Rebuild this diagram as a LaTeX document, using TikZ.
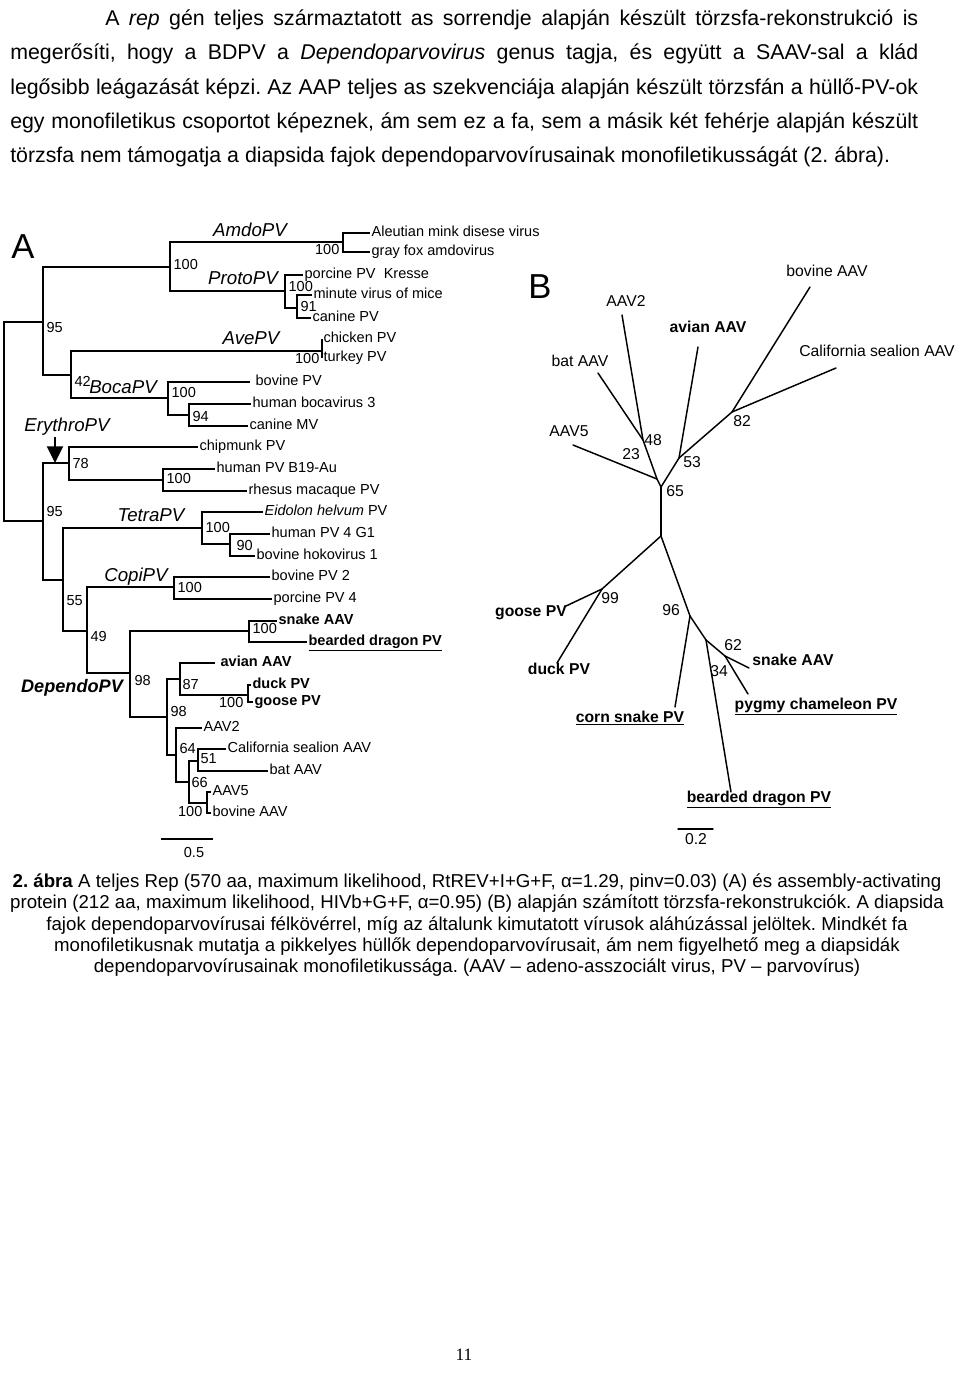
\documentclass[tikz,border=0pt]{standalone}
\usepackage{fontspec}
\setmainfont{Liberation Sans}
\newfontfamily\pagenumfont{Liberation Serif}
\usetikzlibrary{arrows.meta}
\usetikzlibrary{positioning}
\frenchspacing

\begin{document}
\begin{tikzpicture}[
    x=0.75pt, y=-0.75pt,
    font=\fontsize{10.9}{13}\selectfont
]
\tikzset{
    leafnode/.style = {anchor=west, inner sep=1pt, text height=8pt, text depth=2.3pt},
    bootnode/.style = {inner sep=1pt, text height=7.8pt, text depth=0pt},
    cladenode/.style = {inner sep=0pt, font=\fontsize{14}{16}\selectfont\itshape},
    bignode/.style = {inner sep=0pt, font=\fontsize{26}{30}\selectfont},
    unrnode/.style = {inner sep=0pt, text height=8.5pt, text depth=2.4pt, font=\fontsize{11.8}{14}\selectfont},
    bodyline/.style = {anchor=base west, inner sep=0pt, font=\fontsize{16}{19}\selectfont},
    capline/.style = {anchor=base, inner sep=0pt, font=\fontsize{14}{16}\selectfont},
    branch/.style = {line width=1.2pt},
    ubranch/.style = {line width=1.1pt, line cap=round}
}
\fill[white] (0,0) rectangle (960,1374);
\useasboundingbox (0,0) rectangle (960,1374);

% text above
\node[bodyline] (par1) at (105,25.5) {\makebox[609.75pt][s]{A \textit{rep} gén teljes származtatott as sorrendje alapján készült törzsfa-rekonstrukció is}};
\node[bodyline] (par2) at (10,59.75) {\makebox[681pt][s]{megerősíti, hogy a BDPV a \textit{Dependoparvovirus} genus tagja, és együtt a SAAV-sal a klád}};
\node[bodyline] (par3) at (10,94) {\makebox[681pt][s]{legősibb leágazását képzi. Az AAP teljes as szekvenciája alapján készült törzsfán a hüllő-PV-ok}};
\node[bodyline] (par4) at (10,128.25) {\makebox[681pt][s]{egy monofiletikus csoportot képeznek, ám sem ez a fa, sem a másik két fehérje alapján készült}};
\node[bodyline] (par5) at (10,162.5) {törzsfa nem támogatja a diapsida fajok dependoparvovírusainak monofiletikusságát (2. ábra).};

% tree A
\node[bignode] (lblA) at (23,247) {A};
\coordinate (rootA) at (4,421);
\coordinate (nA95) at (43,322);
\coordinate (nAP) at (170,267);
\coordinate (nAmdo) at (343,242);
\coordinate (nProto) at (285,291);
\coordinate (n91) at (297,308);
\coordinate (nAB) at (71,375);
\coordinate (nAve) at (322,351);
\coordinate (nBoca) at (168,398);
\coordinate (n94) at (189,415);
\coordinate (nB95) at (43,521);
\coordinate (nEry) at (69,463);
\coordinate (nB19) at (163,480);
\coordinate (n55) at (63,580);
\coordinate (nTetra) at (202,528);
\coordinate (n90) at (230,544);
\coordinate (n49) at (87,631);
\coordinate (nCopi) at (174,587);
\coordinate (n98a) at (130,673);
\coordinate (nRept) at (249,631);
\coordinate (n98b) at (167,717);
\coordinate (n87) at (180,679);
\coordinate (nDuck) at (248,695);
\coordinate (n64) at (176,755);
\coordinate (n66) at (189,782);
\coordinate (n51) at (198,761);
\coordinate (nAAV5) at (207,803);

\node[leafnode] (tAleut) at (370,233) {Aleutian mink disese virus};
\node[leafnode] (tGray) at (370,252) {gray fox amdovirus};
\node[leafnode] (tKresse) at (303,275) {porcine PV~ Kresse};
\node[leafnode] (tMVM) at (312,295) {minute virus of mice};
\node[leafnode] (tCPV) at (311,318) {canine PV};
\node[leafnode] (tChick) at (322,339) {chicken PV};
\node[leafnode] (tTurk) at (322,358) {turkey PV};
\node[leafnode] (tBovPV) at (250,382) {\ bovine PV};
\node[leafnode] (tHBoV) at (251,404) {human bocavirus 3};
\node[leafnode] (tCMV) at (248,426) {canine MV};
\node[leafnode] (tChip) at (198,447) {chipmunk PV};
\node[leafnode] (tB19) at (215,469) {human PV B19-Au};
\node[leafnode] (tRhes) at (247,491) {rhesus macaque PV};
\node[leafnode] (tEido) at (263,512) {\textit{Eidolon helvum} PV};
\node[leafnode] (tHPV4) at (270,534) {human PV 4 G1};
\node[leafnode] (tHoko) at (255,556) {bovine hokovirus 1};
\node[leafnode] (tBPV2) at (270,577) {bovine PV 2};
\node[leafnode] (tPPV4) at (272,599) {porcine PV 4};
\node[leafnode] (tSnake) at (277,621) {\textbf{snake AAV}};
\node[leafnode] (tBDPV) at (307,642) {\textbf{\underline{bearded dragon PV}}};
\node[leafnode] (tAvian) at (215,663) {\ \textbf{avian AAV}};
\node[leafnode] (tDuck) at (251,685) {\textbf{duck PV}};
\node[leafnode] (tGoose) at (253,702) {\textbf{goose PV}};
\node[leafnode] (tAAV2) at (202,728) {AAV2};
\node[leafnode] (tCSL) at (226,749) {California sealion AAV};
\node[leafnode] (tBat) at (268,771) {bat AAV};
\node[leafnode] (tAAV5) at (211,792) {AAV5};
\node[leafnode] (tBovAAV) at (211,813) {bovine AAV};

\draw[branch] (rootA) |- (nA95);
\draw[branch] (rootA) |- (nB95);
\draw[branch] (nA95) |- (nAP);
\draw[branch] (nA95) |- (nAB);
\draw[branch] (nAP) |- (nAmdo);
\draw[branch] (nAP) |- (nProto);
\draw[branch] (nAmdo) |- (tAleut);
\draw[branch] (nAmdo) |- (tGray);
\draw[branch] (nProto) |- (tKresse);
\draw[branch] (nProto) |- (n91);
\draw[branch] (n91) |- (tMVM);
\draw[branch] (n91) |- (tCPV);
\draw[branch] (nAB) |- (nAve);
\draw[branch] (nAB) |- (nBoca);
\draw[branch] (nAve) |- (tChick);
\draw[branch] (nAve) |- (tTurk);
\draw[branch] (nBoca) |- (tBovPV);
\draw[branch] (nBoca) |- (n94);
\draw[branch] (n94) |- (tHBoV);
\draw[branch] (n94) |- (tCMV);
\draw[branch] (nB95) |- (nEry);
\draw[branch] (nB95) |- (n55);
\draw[branch] (nEry) |- (tChip);
\draw[branch] (nEry) |- (nB19);
\draw[branch] (nB19) |- (tB19);
\draw[branch] (nB19) |- (tRhes);
\draw[branch] (n55) |- (nTetra);
\draw[branch] (n55) |- (n49);
\draw[branch] (nTetra) |- (tEido);
\draw[branch] (nTetra) |- (n90);
\draw[branch] (n90) |- (tHPV4);
\draw[branch] (n90) |- (tHoko);
\draw[branch] (n49) |- (nCopi);
\draw[branch] (n49) |- (n98a);
\draw[branch] (nCopi) |- (tBPV2);
\draw[branch] (nCopi) |- (tPPV4);
\draw[branch] (n98a) |- (nRept);
\draw[branch] (n98a) |- (n98b);
\draw[branch] (nRept) |- (tSnake);
\draw[branch] (nRept) |- (tBDPV);
\draw[branch] (n98b) |- (n87);
\draw[branch] (n98b) |- (n64);
\draw[branch] (n87) |- (tAvian);
\draw[branch] (n87) |- (nDuck);
\draw[branch] (nDuck) |- (tDuck);
\draw[branch] (nDuck) |- (tGoose);
\draw[branch] (n64) |- (tAAV2);
\draw[branch] (n64) |- (n66);
\draw[branch] (n66) |- (n51);
\draw[branch] (n66) |- (nAAV5);
\draw[branch] (n51) |- (tCSL);
\draw[branch] (n51) |- (tBat);
\draw[branch] (nAAV5) |- (tAAV5);
\draw[branch] (nAAV5) |- (tBovAAV);

\node[bootnode, anchor=west] (bA95) at (45,327) {95};
\node[bootnode, anchor=west] (bAP) at (172,264) {100};
\node[bootnode, anchor=east] (bAmdo) at (341,249) {100};
\node[bootnode, anchor=west] (bProto) at (287,286) {100};
\node[bootnode, anchor=west] (b91) at (299,306) {91};
\node[bootnode, anchor=west] (b42) at (73,381) {42};
\node[bootnode, anchor=east] (bAve) at (321,358) {100};
\node[bootnode, anchor=west] (bBoca) at (170,392) {100};
\node[bootnode, anchor=west] (b94) at (191,416) {94};
\node[bootnode, anchor=west] (bB95) at (45,511) {95};
\node[bootnode, anchor=west] (b78) at (71,463) {78};
\node[bootnode, anchor=west] (bB19) at (165,478) {100};
\node[bootnode, anchor=west] (b55) at (65,600) {55};
\node[bootnode, anchor=west] (bTetra) at (204,527) {100};
\node[bootnode, anchor=west] (b90) at (235,545) {90};
\node[bootnode, anchor=west] (b49) at (89,636) {49};
\node[bootnode, anchor=west] (bCopi) at (176,587) {100};
\node[bootnode, anchor=west] (b98a) at (133,680) {98};
\node[bootnode, anchor=west] (bRept) at (251,628) {100};
\node[bootnode, anchor=west] (b98b) at (169,711) {98};
\node[bootnode, anchor=west] (b87) at (181,684) {87};
\node[bootnode, anchor=east] (bDuck) at (245,702) {100};
\node[bootnode, anchor=west] (b64) at (178,748) {64};
\node[bootnode, anchor=west] (b66) at (190,782) {66};
\node[bootnode, anchor=west] (b51) at (199,758) {51};
\node[bootnode, anchor=east] (bAAV5) at (204,811) {100};

\node[cladenode] (cAmdo) at (250,230) {AmdoPV};
\node[cladenode] (cProto) at (243,278) {ProtoPV};
\node[cladenode] (cAve) at (251,338) {AvePV};
\node[cladenode] (cBoca) at (123,387) {BocaPV};
\node[cladenode] (cEry) at (67,427) {ErythroPV};
\node[cladenode] (cTetra) at (151,515) {TetraPV};
\node[cladenode] (cCopi) at (136,577) {CopiPV};
\node[cladenode, font=\fontsize{13.6}{16}\selectfont\itshape\bfseries] (cDep) at (72,688) {DependoPV};

\coordinate (eryTop) at (55,437);
\coordinate (eryTip) at (55,463);
\draw[line width=1.6pt, -{Triangle[width=12pt,length=12.5pt]}] (eryTop) -- (eryTip);

\coordinate (scaleAl) at (161,839);
\coordinate (scaleAr) at (213,839);
\draw[branch] (scaleAl) -- (scaleAr);
\node[bootnode] (scaleAt) at (194,852) {0.5};

% tree B
\node[bignode] (lblB) at (540,287) {B};
\coordinate (b65) at (661,487);
\coordinate (bLow) at (661,536);
\coordinate (b23) at (657,479);
\coordinate (b48) at (643,440);
\coordinate (b53) at (679,458);
\coordinate (b82) at (732,412);
\coordinate (b99) at (602,589);
\coordinate (b96) at (690,616);
\coordinate (b34) at (706,640);
\coordinate (b62) at (725,656);
\coordinate (uAAV5) at (573,445);
\coordinate (uBat) at (598,373);
\coordinate (uAAV2) at (622,315);
\coordinate (uAvian) at (698,347);
\coordinate (uBov) at (810,287);
\coordinate (uCSL) at (836,368);
\coordinate (uGoose) at (566,606);
\coordinate (uDuck) at (557,663);
\coordinate (uCorn) at (675,707);
\coordinate (uBD) at (731,792);
\coordinate (uSnake) at (749,668);
\coordinate (uPyg) at (748,694);

\draw[ubranch] (b65) -- (bLow);
\draw[ubranch] (b65) -- (b23);
\draw[ubranch] (b23) -- (b48);
\draw[ubranch] (b23) -- (uAAV5);
\draw[ubranch] (b48) -- (uBat);
\draw[ubranch] (b48) -- (uAAV2);
\draw[ubranch] (b65) -- (b53);
\draw[ubranch] (b53) -- (uAvian);
\draw[ubranch] (b53) -- (b82);
\draw[ubranch] (b82) -- (uBov);
\draw[ubranch] (b82) -- (uCSL);
\draw[ubranch] (bLow) -- (b99);
\draw[ubranch] (b99) -- (uGoose);
\draw[ubranch] (b99) -- (uDuck);
\draw[ubranch] (bLow) -- (b96);
\draw[ubranch] (b96) -- (uCorn);
\draw[ubranch] (b96) -- (b34);
\draw[ubranch] (b34) -- (uBD);
\draw[ubranch] (b34) -- (b62);
\draw[ubranch] (b62) -- (uSnake);
\draw[ubranch] (b62) -- (uPyg);

\node[unrnode] (lAAV2) at (626,302) {AAV2};
\node[unrnode] (lBat) at (580,362) {bat AAV};
\node[unrnode] (lAAV5) at (569,432) {AAV5};
\node[unrnode] (lAvian) at (708,328) {\textbf{avian AAV}};
\node[unrnode] (lBov) at (827,272) {bovine AAV};
\node[unrnode] (lCSL) at (877,352) {California sealion AAV};
\node[unrnode] (lGoose) at (531,612) {\textbf{goose PV}};
\node[unrnode] (lDuck) at (559,670) {\textbf{duck PV}};
\node[unrnode] (lCorn) at (630,718) {\textbf{\underline{corn snake PV}}};
\node[unrnode] (lBD) at (759,798) {\textbf{\underline{bearded dragon PV}}};
\node[unrnode] (lSnake) at (793,661) {\textbf{snake AAV}};
\node[unrnode] (lPyg) at (816,705) {\textbf{\underline{pygmy chameleon PV}}};

\node[unrnode] (s48) at (653,441) {48};
\node[unrnode] (s23) at (631,455) {23};
\node[unrnode] (s65) at (675,492) {65};
\node[unrnode] (s53) at (692,463) {53};
\node[unrnode] (s82) at (742,422) {82};
\node[unrnode] (s99) at (610,599) {99};
\node[unrnode] (s96) at (671,611) {96};
\node[unrnode] (s62) at (733,646) {62};
\node[unrnode] (s34) at (719,672) {34};

\coordinate (scaleBl) at (678,829);
\coordinate (scaleBr) at (713,829);
\draw[ubranch] (scaleBl) -- (scaleBr);
\node[unrnode] (scaleBt) at (696,840) {0.2};

% caption
\node[capline] (cap1) at (477,887.5) {\textbf{2. ábra} A teljes Rep (570 aa, maximum likelihood, RtREV+I+G+F, α=1.29, pinv=0.03) (A) és assembly-activating};
\node[capline] (cap2) at (477,908.75) {protein (212 aa, maximum likelihood, HIVb+G+F, α=0.95) (B) alapján számított törzsfa-rekonstrukciók. A diapsida};
\node[capline] (cap3) at (477,930) {fajok dependoparvovírusai félkövérrel, míg az általunk kimutatott vírusok aláhúzással jelöltek. Mindkét fa};
\node[capline] (cap4) at (477,951.25) {monofiletikusnak mutatja a pikkelyes hüllők dependoparvovírusait, ám nem figyelhető meg a diapsidák};
\node[capline] (cap5) at (477,972.5) {dependoparvovírusainak monofiletikussága. (AAV – adeno-asszociált virus, PV – parvovírus)};

\node[inner sep=0pt, font=\pagenumfont\fontsize{13}{15}\selectfont] (pagenum) at (464,1355) {11};
\end{tikzpicture}
\end{document}
